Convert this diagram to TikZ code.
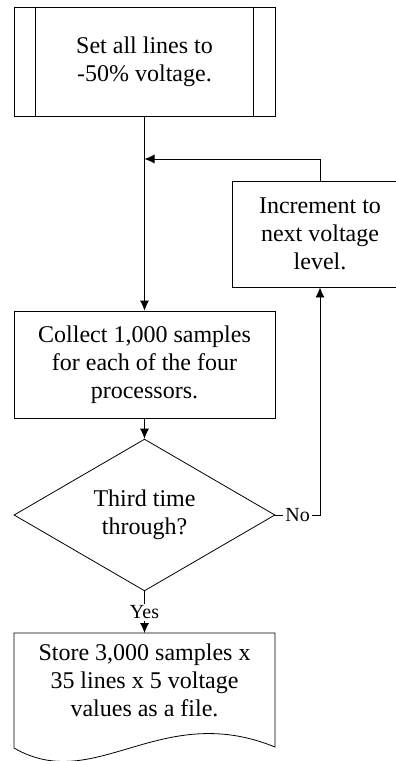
\documentclass[tikz,border=0pt]{standalone}
\usepackage{fontspec}
\setmainfont{Liberation Serif}
\usetikzlibrary{shapes.geometric}
\usetikzlibrary{arrows.meta}

\begin{document}
\begin{tikzpicture}[x=0.5pt,y=-0.5pt]
\tikzset{box/.style = {shape=rectangle,draw,align=center,inner sep=0pt,
  font=\fontsize{12}{14}\selectfont}}
\tikzset{decision/.style = {shape=diamond,draw,align=center,inner sep=0pt,
  minimum width=130.5pt,minimum height=54pt,font=\fontsize{12}{14}\selectfont}}
\tikzset{lbl/.style = {fill=white,inner sep=1pt,font=\fontsize{10}{12}\selectfont}}
\tikzset{edge/.style = {->,> = {Latex[length=5pt,width=4.5pt]}}}
\clip (0,0) rectangle (396,761);
% steps
\node[box,minimum width=130.5pt,minimum height=54.5pt] (set) at (144.5,61.5)
  {Set all lines to\\-50\% voltage.};
\draw ([xshift=11pt]set.north west) -- ([xshift=11pt]set.south west);
\draw ([xshift=-11pt]set.north east) -- ([xshift=-11pt]set.south east);
\node[box,minimum width=130.5pt,minimum height=53.5pt] (collect) at (144.5,364.5)
  {Collect 1,000 samples\\for each of the four\\processors.};
\node[box,minimum width=88pt,minimum height=53pt] (inc) at (320,234)
  {Increment to\\next voltage\\level.};
\node[decision] (third) at (144.5,515) {Third time\\through?};

% stored file
\node[align=center,font=\fontsize{12}{14}\selectfont] (store) at (144.5,680)
  {Store 3,000 samples x\\35 lines x 5 voltage\\values as a file.};
\coordinate (filetop) at (144.5,633);
\draw (14,633) -- (14,748) .. controls (95,795) and (160,700) .. (275,747)
  -- (275,633) -- cycle;

% edges
\coordinate (join) at (144.5,159);
\draw[edge] (set) -- (collect);
\draw[edge] (inc.north) |- (join);
\draw[edge] (collect) -- (third);
\draw[edge] (third.east) -- node[lbl] {No} (third.east -| inc.south) -- (inc.south);
\draw[edge] (third.south) -- node[lbl] {Yes} (filetop);
\end{tikzpicture}
\end{document}
